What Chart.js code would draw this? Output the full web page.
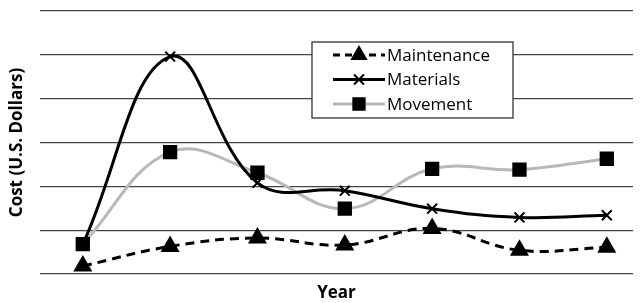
<!DOCTYPE html>
<html>
<head>
<meta charset="utf-8">
<script src="https://cdn.jsdelivr.net/npm/chart.js@4/dist/chart.umd.min.js"></script>
<style>
  html, body { margin: 0; padding: 0; background: #fff; }
  #wrap { width: 644px; height: 303px; position: relative; }
</style>
</head>
<body>
<div id="wrap"><canvas id="costChart"></canvas></div>
<script>
// data (one grid step = 1 unit, no tick labels shown)
const years = [1, 2, 3, 4, 5, 6, 7];
const maintenance = [0.18, 0.63, 0.82, 0.66, 1.04, 0.54, 0.61];
const materials = [0.68, 4.96, 2.08, 1.90, 1.49, 1.29, 1.34];
const movement = [0.68, 2.78, 2.31, 1.49, 2.40, 2.38, 2.63];

const seriesNames = ['Maintenance', 'Materials', 'Movement'];

function toPoints(values) {
  return values.map((v, i) => ({ x: years[i], y: v }));
}

// boxed legend drawn inside the plot, like the original
const boxLegend = {
  id: 'boxLegend',
  afterDatasetsDraw(chart) {
    const ctx = chart.ctx;
    const bx = 312, by = 42, bw = 201, bh = 76;
    ctx.save();
    ctx.fillStyle = '#fff';
    ctx.fillRect(bx, by, bw, bh);
    ctx.strokeStyle = '#333';
    ctx.lineWidth = 1.3;
    ctx.strokeRect(bx, by, bw, bh);
    chart.data.datasets.forEach((ds, i) => {
      const y = 55 + i * 24.5;
      ctx.beginPath();
      ctx.strokeStyle = ds.borderColor;
      ctx.lineWidth = ds.borderWidth;
      ctx.setLineDash(ds.borderDash ? [7, 5] : []);
      ctx.moveTo(333, y);
      ctx.lineTo(385, y);
      ctx.stroke();
      ctx.setLineDash([]);
      // marker in the middle of the sample line
      ctx.fillStyle = '#000';
      ctx.strokeStyle = '#000';
      ctx.lineWidth = 2;
      Chart.helpers.drawPoint(ctx, {
        pointStyle: ds.pointStyle,
        radius: ds.pointRadius,
        borderWidth: 2
      }, 359, y);
      ctx.font = '17px "Open Sans", sans-serif';
      ctx.textBaseline = 'middle';
      ctx.fillText(ds.label, 387, y + 1);
    });
    ctx.restore();
  }
};

const ctx = document.getElementById('costChart').getContext('2d');
const myChart = new Chart(ctx, {
  type: 'line',
  data: {
    datasets: [{
      label: seriesNames[0],
      data: toPoints(maintenance),
      borderColor: '#000',
      borderWidth: 3,
      borderDash: [9, 6],
      pointStyle: 'triangle',
      pointRadius: 8,
      pointBackgroundColor: '#000',
      pointBorderColor: '#000',
      tension: 0.4
    }, {
      label: seriesNames[1],
      data: toPoints(materials),
      borderColor: '#000',
      borderWidth: 3,
      pointStyle: 'crossRot',
      pointRadius: 7,
      pointBackgroundColor: '#000',
      pointBorderColor: '#000',
      pointBorderWidth: 2,
      tension: 0.4
    }, {
      label: seriesNames[2],
      data: toPoints(movement),
      borderColor: '#b8b8b8',
      borderWidth: 3,
      pointStyle: 'rect',
      pointRadius: 8,
      pointBackgroundColor: '#000',
      pointBorderColor: '#000',
      tension: 0.4
    }]
  },
  options: {
    responsive: true,
    maintainAspectRatio: false,
    animation: false,
    layout: { padding: { top: 8, right: 4, left: 0, bottom: 0 } },
    plugins: {
      legend: { display: false },
      tooltip: { enabled: false }
    },
    scales: {
      x: {
        type: 'linear',
        min: 0.51,
        max: 7.3,
        grid: { display: false },
        border: { display: false },
        ticks: { display: false },
        title: {
          display: true,
          text: 'Year',
          color: '#000',
          font: { family: '"Open Sans", sans-serif', size: 17, weight: 'bold' },
          padding: { top: 3, bottom: 0 }
        },
        afterFit(scale) { scale.height = 29; }
      },
      y: {
        min: 0,
        max: 6,
        grid: { color: '#444', lineWidth: 1.3, drawTicks: false },
        border: { display: false },
        ticks: { display: false, stepSize: 1 },
        title: {
          display: true,
          text: 'Cost (U.S. Dollars)',
          color: '#000',
          font: { family: '"Open Sans", sans-serif', size: 17, weight: 'bold' },
          padding: { top: 7, bottom: 0 }
        },
        afterFit(scale) { scale.width = 40; }
      }
    }
  },
  plugins: [boxLegend]
});
</script>
</body>
</html>
